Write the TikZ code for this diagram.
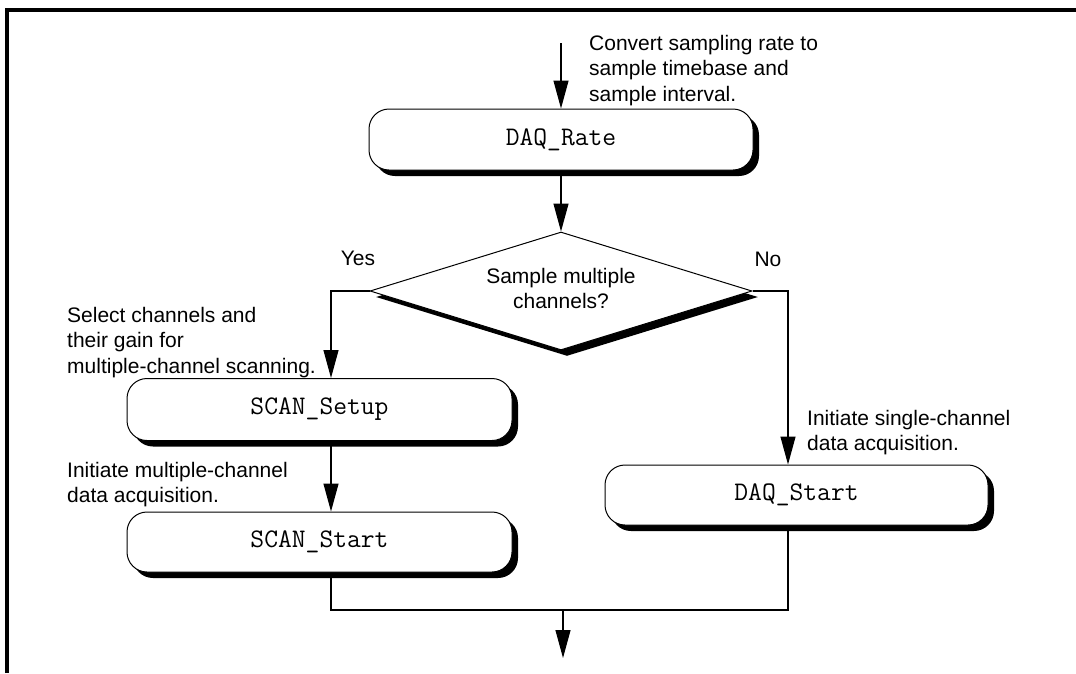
\documentclass[tikz,border=0pt]{standalone}
\usepackage{fontspec}
\setmainfont{Liberation Sans}
\usetikzlibrary{shapes.geometric,shadows,arrows.meta}

\begin{document}
\begin{tikzpicture}[x=1pt,y=-1pt,
    txt/.style={font=\fontsize{21}{25.5}\selectfont, inner sep=0pt, align=left, anchor=north west},
    call/.style={draw, line width=1pt, rounded corners=20pt, fill=white, inner sep=0pt,
        font=\fontsize{26.8}{28}\selectfont\ttfamily,
        drop shadow={shadow xshift=6pt, shadow yshift=-6pt, fill=black, opacity=1}},
    test/.style={draw, line width=1pt, diamond, aspect=3.24, fill=white, inner sep=0pt,
        minimum width=382pt, minimum height=118pt, align=center,
        font=\fontsize{21}{25.5}\selectfont,
        drop shadow={shadow xshift=6pt, shadow yshift=-6pt, fill=black, opacity=1}},
    conn/.style={line width=1.2pt, -{Triangle[length=28pt,width=15pt]}},
    line/.style={line width=1.2pt}]
    \useasboundingbox (0,0) rectangle (1076,673);
    \draw[line width=3.5pt] (7,673) -- (7,10) -- (1076,10);

    % boxes
    \node[call, minimum width=384pt, minimum height=61pt] (rate) at (561,139.5) {DAQ\_Rate};
    \node[test] (dec) at (561,291) {\raisebox{-5pt}{\begin{tabular}{@{}c@{}}Sample multiple\\channels?\end{tabular}}};
    \node[call, minimum width=385pt, minimum height=62pt] (setup) at (319.5,409.5) {SCAN\_Setup};
    \node[call, minimum width=385pt, minimum height=60pt] (sstart) at (319.5,542) {SCAN\_Start};
    \node[call, minimum width=383pt, minimum height=60pt] (dstart) at (796.5,495) {DAQ\_Start};

    % labels
    \node[txt] (conv) at (589,35) {Convert sampling rate to\\sample timebase and\\sample interval.};
    \node[txt] (sel) at (67,307) {Select channels and\\their gain for\\multiple-channel scanning.};
    \node[txt] (initm) at (67,462) {Initiate multiple-channel\\data acquisition.};
    \node[txt] (inits) at (807,410) {Initiate single-channel\\data acquisition.};
    \node[txt, anchor=center] (yes) at (358,258) {Yes};
    \node[txt, anchor=center] (no) at (768,259) {No};

    % connectors
    \coordinate (in) at (561,43);
    \coordinate (lx) at (331,0);
    \coordinate (rx) at (788,0);
    \coordinate (join) at (563,610);
    \coordinate (out) at (563,658);

    \draw[conn] (in) -- (rate.north);
    \draw[conn] (rate.south) -- (dec.north);
    \draw[conn] (dec.west) -| (lx |- setup.north);
    \draw[conn] (dec.east) -| (rx |- dstart.north);
    \draw[conn] (lx |- setup.south) -- (lx |- sstart.north);
    \draw[line] (lx |- sstart.south) |- (join) -| (rx |- dstart.south);
    \draw[conn] (join) -- (out);

\end{tikzpicture}
\end{document}
